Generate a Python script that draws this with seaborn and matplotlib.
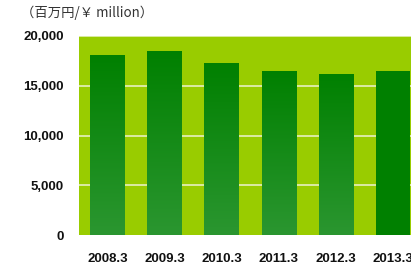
import numpy as np
import pandas as pd
import matplotlib
matplotlib.use("Agg")
import matplotlib.pyplot as plt
import seaborn as sns
from matplotlib.colors import LinearSegmentedColormap

categories = ["2008.3", "2009.3", "2010.3", "2011.3", "2012.3", "2013.3"]
values = [18100, 18500, 17300, 16500, 16200, 16500]
yticks = [0, 5000, 10000, 15000, 20000]
ytick_labels = ["0", "5,000", "10,000", "15,000", "20,000"]
unit_label = "（百万円/￥ million）"

sns.set_theme(style="white")
plt.rcParams['font.family'] = ['Liberation Sans', 'Noto Sans CJK JP', 'DejaVu Sans']

df = pd.DataFrame({"year": categories, "value": values})

fig = plt.figure(figsize=(4.11, 2.66), dpi=100)
ax = fig.add_axes([79/411, 1-235/266, 1-79/411, (235-36)/266])
ax.set_facecolor("#99cc00")

sns.barplot(data=df, x="year", y="value", ax=ax, color="#008000", width=0.6,
            saturation=1, zorder=3)

cmap = LinearSegmentedColormap.from_list("g", ["#2b9630", "#008000"])
grad = np.linspace(0, 1, 256).reshape(-1, 1)
for i, p in enumerate(ax.patches):
    p.set_edgecolor("none")
    if i < len(ax.patches) - 1:
        x0, y0 = p.get_x(), p.get_y()
        w, h = p.get_width(), p.get_height()
        im = ax.imshow(grad, cmap=cmap, origin="lower", aspect="auto",
                       extent=[x0, x0 + w, y0, y0 + h], zorder=4)
        im.set_clip_path(p)
        p.set_facecolor("none")

ax.set_xlim(-0.5, 5.32)
ax.set_ylim(0, 20000)
ax.set_yticks(yticks)
ax.set_yticklabels(ytick_labels)
for y in yticks[1:]:
    ax.axhline(y, color="#e6f0c0", lw=1.2, zorder=2)

for s in ax.spines.values():
    s.set_visible(False)
ax.tick_params(axis="both", length=0, labelsize=9.5, colors="#111111")
ax.tick_params(axis="y", pad=11)
ax.tick_params(axis="x", pad=13)
for lab in ax.get_xticklabels() + ax.get_yticklabels():
    lab.set_fontweight("bold")
ax.set_xlabel("")
ax.set_ylabel("")

fig.text(21/411, 1-13/266, unit_label, fontsize=9.6, color="#333333",
         va="center", ha="left", family=['Noto Sans CJK JP', 'DejaVu Sans'])

fig.savefig("out.png", dpi=100, facecolor="white")
